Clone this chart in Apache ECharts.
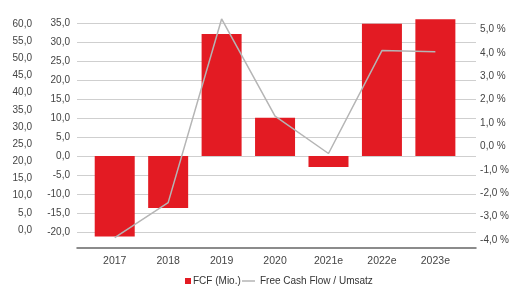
<!DOCTYPE html>
<html>
<head>
<meta charset="utf-8">
<script src="https://cdn.jsdelivr.net/npm/echarts@6/dist/echarts.min.js"></script>
<style>
  html, body { margin: 0; padding: 0; background: #fff; }
  #chart { width: 512px; height: 287px; }
</style>
</head>
<body>
<div id="chart"></div>
<script>
var years = ['2017', '2018', '2019', '2020', '2021e', '2022e', '2023e'];
var fcf = [-21.2, -13.7, 32.1, 10.1, -2.9, 34.8, 36.0];
var fcfMargin = [-3.9, -2.4, 5.45, 1.3, -0.3, 4.1, 4.05];
var leftTicks = [-20, -15, -10, -5, 0, 5, 10, 15, 20, 25, 30, 35];
var rightTicks = [-4, -3, -2, -1, 0, 1, 2, 3, 4, 5];
var ghostTicks = [0, 5, 10, 15, 20, 25, 30, 35, 40, 45, 50, 55, 60];

var mychart = echarts.init(document.getElementById('chart'));
var font = 'Liberation Sans, Arial, sans-serif';
var labelColor = '#444';

var option = {
    animation: false,
    textStyle: { fontFamily: font },
    grid: [
        { left: 77, right: 36, top: 15, bottom: 39 },
        { left: 88, right: 48, top: 15, bottom: 39 }
    ],
    legend: [
        {
            data: [{ name: 'FCF (Mio.)', icon: 'rect' }],
            left: 180, top: 271,
            itemWidth: 6, itemHeight: 6,
            textStyle: { color: '#333', fontSize: 10, fontFamily: font, padding: [0, 0, 0, -3] }
        },
        {
            data: [{ name: 'Free Cash Flow / Umsatz', icon: 'rect' }],
            left: 237, top: 271,
            itemWidth: 13, itemHeight: 1.5,
            textStyle: { color: '#333', fontSize: 10, fontFamily: font }
        }
    ],
    xAxis: [
        {
            gridIndex: 0, type: 'value', min: 0, max: 1,
            axisLine: { show: true, onZero: false, lineStyle: { color: '#666', width: 1.5 } },
            axisTick: { show: false }, axisLabel: { show: false }, splitLine: { show: false }
        },
        {
            gridIndex: 1, type: 'category', data: years,
            axisLine: { show: false }, axisTick: { show: false },
            axisLabel: { color: labelColor, fontSize: 10.5, margin: 8, fontFamily: font }
        }
    ],
    yAxis: [
        {
            gridIndex: 0, type: 'value', min: -24.2, max: 37.1,
            axisLine: { show: false },
            axisTick: { show: false, customValues: leftTicks },
            axisLabel: {
                customValues: leftTicks, color: labelColor, fontSize: 10, margin: 7,
                formatter: function (v) { return v.toFixed(1).replace('.', ','); }
            },
            splitLine: { show: true, lineStyle: { color: '#cfcfcf', width: 1 } }
        },
        {
            gridIndex: 0, type: 'value', min: -5.24, max: 62.6, position: 'left', offset: 38,
            axisLine: { show: false },
            axisTick: { show: false, customValues: ghostTicks },
            axisLabel: {
                customValues: ghostTicks, color: labelColor, fontSize: 10, margin: 7,
                formatter: function (v) { return v.toFixed(1).replace('.', ','); }
            },
            splitLine: { show: false }
        },
        {
            gridIndex: 1, type: 'value', min: -24.2, max: 37.1,
            axisLine: { show: false }, axisTick: { show: false },
            axisLabel: { show: false }, splitLine: { show: false }
        },
        {
            gridIndex: 1, type: 'value', min: -4.34, max: 5.62, position: 'right', offset: 12,
            axisLine: { show: false },
            axisTick: { show: false, customValues: rightTicks },
            axisLabel: {
                customValues: rightTicks, color: labelColor, fontSize: 10, margin: 6,
                formatter: function (v) { return v.toFixed(1).replace('.', ',') + ' %'; }
            },
            splitLine: { show: false }
        }
    ],
    series: [
        {
            name: 'FCF (Mio.)',
            type: 'bar',
            xAxisIndex: 1, yAxisIndex: 2,
            data: fcf,
            barWidth: 40,
            clip: false,
            itemStyle: { color: '#e31b23' }
        },
        {
            name: 'Free Cash Flow / Umsatz',
            type: 'line',
            xAxisIndex: 1, yAxisIndex: 3,
            data: fcfMargin,
            symbol: 'none',
            clip: false,
            lineStyle: { color: '#b5b5b5', width: 1.5 },
            itemStyle: { color: '#b5b5b5' }
        }
    ]
};
mychart.setOption(option);
</script>
</body>
</html>
